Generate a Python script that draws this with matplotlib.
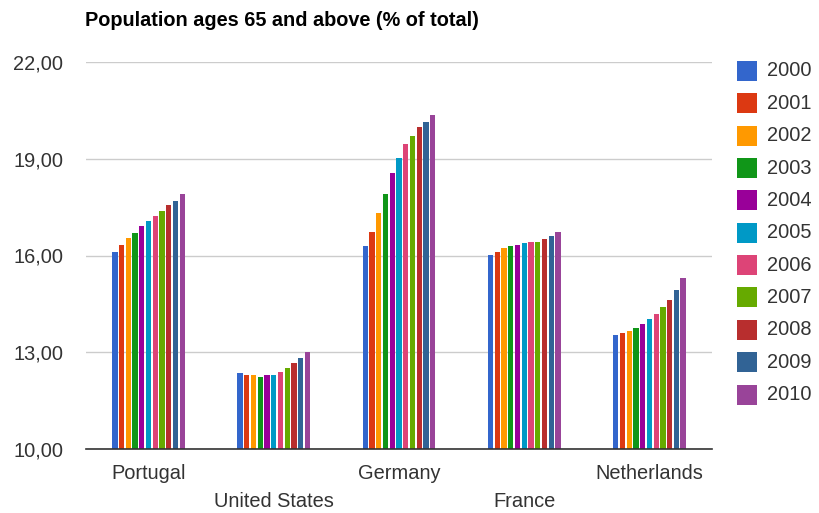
import numpy as np
import matplotlib
matplotlib.use("Agg")
import matplotlib.pyplot as plt
from matplotlib.transforms import ScaledTranslation

plt.rcParams['font.family'] = ['Liberation Sans', 'DejaVu Sans']

countries = ["Portugal", "United States", "Germany", "France", "Netherlands"]
years = ["2000", "2001", "2002", "2003", "2004", "2005",
         "2006", "2007", "2008", "2009", "2010"]
colors = ["#3366cc", "#dc3912", "#ff9900", "#109618", "#990099", "#0099c6",
          "#dd4477", "#66aa00", "#b82e2e", "#316395", "#994499"]

# Share of population aged 65+ (% of total), one list per country, 2000..2010
portugal = [16.12, 16.33, 16.53, 16.70, 16.90, 17.06, 17.22, 17.39, 17.56, 17.70, 17.91]
united_states = [12.35, 12.30, 12.30, 12.24, 12.30, 12.30, 12.40, 12.50, 12.67, 12.82, 13.02]
germany = [16.28, 16.74, 17.33, 17.91, 18.55, 19.02, 19.45, 19.71, 19.97, 20.13, 20.35]
france = [16.01, 16.12, 16.22, 16.28, 16.34, 16.39, 16.43, 16.43, 16.50, 16.60, 16.74]
netherlands = [13.55, 13.61, 13.66, 13.76, 13.87, 14.02, 14.19, 14.39, 14.61, 14.93, 15.29]

y_ticks = [10, 13, 16, 19, 22]

values = np.array([portugal, united_states, germany, france, netherlands])

text_color = "#333333"

fig = plt.figure(figsize=(8.19, 5.13), dpi=100)
ax = fig.add_axes([86 / 819, (513 - 449) / 513, (712 - 86) / 819, (449 - 62) / 513])

x = np.arange(len(countries))
step = 0.0538
width = 0.042
n = len(years)
for i, (yr, col) in enumerate(zip(years, colors)):
    offs = (i - (n - 1) / 2) * step
    ax.bar(x + offs, values[:, i] - 10, width=width, bottom=10, color=col,
           label=yr, zorder=3, edgecolor="none")

ax.set_xlim(-0.5, len(countries) - 0.5)
ax.set_ylim(10, 22)
ax.set_yticks(y_ticks)
ax.set_yticklabels([f"{v:.2f}".replace(".", ",") for v in y_ticks])
ax.grid(axis="y", color="#cccccc", linewidth=1, zorder=0)
for s in ["top", "right", "left"]:
    ax.spines[s].set_visible(False)
ax.spines["bottom"].set_color("#333333")
ax.spines["bottom"].set_linewidth(1.2)
ax.spines["bottom"].set_zorder(4)
ax.tick_params(axis="both", length=0, labelsize=14.4, labelcolor=text_color)
ax.tick_params(axis="y", pad=16.5)
ax.tick_params(axis="x", pad=11)

ax.set_xticks(x)
ax.set_xticklabels(countries)
for k, lab in enumerate(ax.get_xticklabels()):
    if k % 2 == 1:
        lab.set_transform(lab.get_transform() + ScaledTranslation(0, -0.28, fig.dpi_scale_trans))

fig.text(85 / 819, 1 - 20 / 513, "Population ages 65 and above (% of total)",
         fontsize=14.3, fontweight="bold", color="black", va="center", ha="left")

# Legend column on the right
for i, (yr, col) in enumerate(zip(years, colors)):
    cy = 71 + i * 32.35
    fig.patches.append(plt.Rectangle((737 / 819, 1 - (cy + 10) / 513), 20 / 819, 20 / 513,
                                     transform=fig.transFigure, facecolor=col,
                                     edgecolor="none", figure=fig))
    fig.text(767 / 819, 1 - cy / 513, yr, fontsize=14.4, color=text_color,
             va="center", ha="left")

fig.savefig("out.png", dpi=100, facecolor="white")
